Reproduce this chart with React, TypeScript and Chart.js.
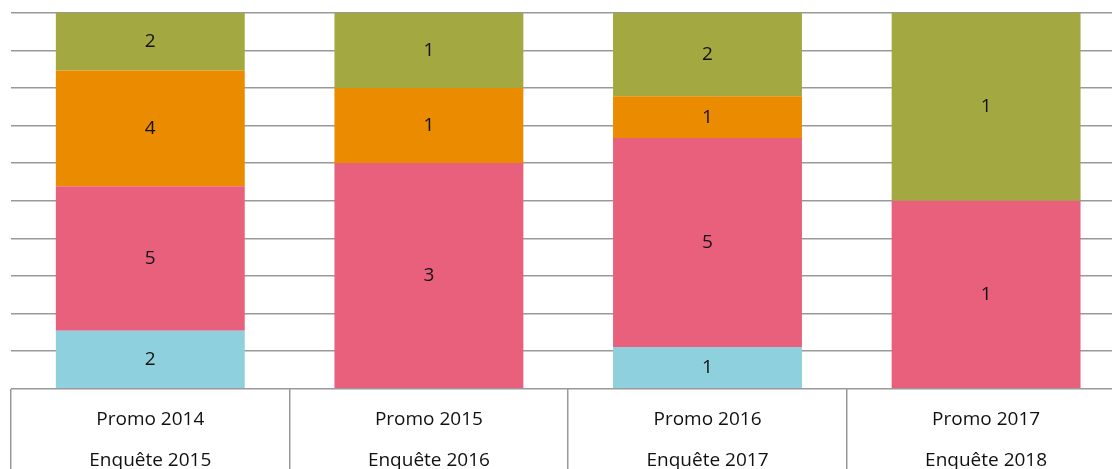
import React, { useEffect, useRef } from "react";
import { Chart, registerables } from "chart.js";

Chart.register(...registerables);

const categories: string[][] = [
  ["Promo 2014", "Enquête 2015"],
  ["Promo 2015", "Enquête 2016"],
  ["Promo 2016", "Enquête 2017"],
  ["Promo 2017", "Enquête 2018"],
];

const seriesNames = ["Série 1", "Série 2", "Série 3", "Série 4"];
const serieBleue = [2, 0, 1, 0];
const serieRose = [5, 3, 5, 1];
const serieOrange = [4, 1, 1, 0];
const serieVerte = [2, 1, 2, 1];
const seriesColors = ["#8FD0DE", "#E9607D", "#EB8B00", "#A3A940"];

const FONT = "'Open Sans', sans-serif";

const W = 1140;
const H = 520;

export default function App() {
  const ref = useRef<HTMLCanvasElement | null>(null);

  useEffect(() => {
    if (!ref.current) return;
    const counts = [serieBleue, serieRose, serieOrange, serieVerte];
    const totals = categories.map((_, j) =>
      counts.reduce((s, arr) => s + arr[j], 0)
    );
    const datasets = counts.map((arr, i) => ({
      label: seriesNames[i],
      data: arr.map((v, j) => (v / totals[j]) * 100),
      backgroundColor: seriesColors[i],
      borderWidth: 0,
      categoryPercentage: 1,
      barPercentage: 0.678,
    }));

    const labelPlugin = {
      id: "segLabels",
      afterDatasetsDraw(chart: any) {
        const ctx = chart.ctx;
        ctx.save();
        ctx.font = `19px ${FONT}`;
        ctx.fillStyle = "#111";
        ctx.textAlign = "center";
        ctx.textBaseline = "middle";
        counts.forEach((arr, i) => {
          const meta = chart.getDatasetMeta(i);
          meta.data.forEach((el: any, j: number) => {
            if (!arr[j]) return;
            ctx.fillText(String(arr[j]), el.x, (el.y + el.base) / 2);
          });
        });
        ctx.restore();
      },
    };

    const chart = new Chart(ref.current, {
      type: "bar",
      data: { labels: categories, datasets },
      plugins: [labelPlugin],
      options: {
        animation: false,
        responsive: false,
        devicePixelRatio: 1,
        layout: { padding: { left: 11, right: 14.6, top: 12.7, bottom: 0 } },
        plugins: {
          legend: { display: false },
          tooltip: { enabled: false },
        },
        scales: {
          x: {
            stacked: true,
            border: { display: false },
            grid: {
              offset: true,
              drawOnChartArea: false,
              drawTicks: true,
              tickLength: 120,
              color: "#999",
              lineWidth: 1.5,
            },
            ticks: {
              padding: -110,
              color: "#111",
              maxRotation: 0,
              autoSkip: false,
              font: { family: FONT, size: 19, lineHeight: 41 / 19 },
            },
            afterFit(scale: any) {
              scale.height = H - 388.7;
            },
          },
          y: {
            stacked: true,
            min: 0,
            max: 100,
            border: { display: false },
            grid: { drawTicks: false, color: "#999", lineWidth: 1.5 },
            ticks: { display: false, stepSize: 10 },
            afterFit(scale: any) {
              scale.width = 0;
            },
          },
        },
      },
    });
    return () => chart.destroy();
  }, []);

  return (
    <div
      style={{
        position: "fixed",
        left: 0,
        top: 0,
        width: 1112,
        height: 469,
        overflow: "hidden",
        background: "#fff",
      }}
    >
      <canvas ref={ref} width={W} height={H} style={{ width: W, height: H, display: "block" }} />
    </div>
  );
}
